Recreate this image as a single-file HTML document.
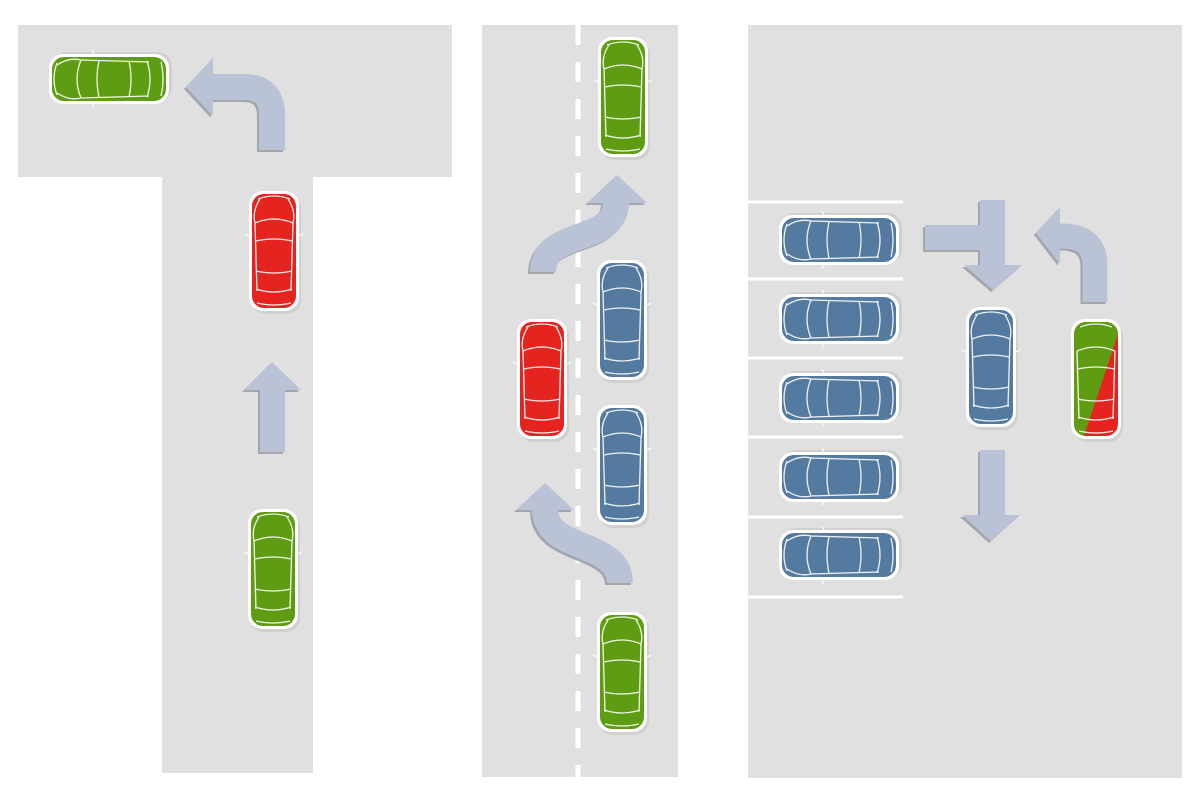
<!DOCTYPE html>
<html><head><meta charset="utf-8"><style>html,body{margin:0;padding:0;background:#fff}svg{display:block}</style></head>
<body>
<svg width="1200" height="804" viewBox="0 0 1200 804" xmlns="http://www.w3.org/2000/svg">
<defs>
<g id="car">
  <rect x="-23" y="-57" width="50" height="120" rx="14" fill="#c4c4c4" opacity="0.6"/>
  <rect x="-25" y="-60" width="50" height="120" rx="14" fill="#fff"/>
  <rect x="-22" y="-57" width="44" height="114" rx="12" fill="currentColor"/>
  <g fill="none" stroke="#fff" stroke-width="1.3" opacity="0.9">
    <path d="M-16,-52 Q0,-58 16,-52"/>
    <path d="M-19,-28 Q0,-36 19,-28"/>
    <path d="M-18,-10 Q0,-14 18,-10"/>
    <path d="M-18,20 Q0,24 18,20"/>
    <path d="M-18,38 Q0,44 18,38"/>
    <path d="M-17,52 Q0,56 17,52"/>
    <path d="M-19,-28 L-17,40"/>
    <path d="M19,-28 L17,40"/>
    <path d="M-14,-52 Q-22,-40 -19,-28"/>
    <path d="M14,-52 Q22,-40 19,-28"/>
    <path d="M-25,-15 l-4,-2 M25,-15 l4,-2"/>
  </g>
</g>
<g id="carSplit">
  <rect x="-23" y="-57" width="50" height="120" rx="14" fill="#c4c4c4" opacity="0.6"/>
  <rect x="-25" y="-60" width="50" height="120" rx="14" fill="#fff"/>
  <clipPath id="cc"><rect x="-22" y="-57" width="44" height="114" rx="12"/></clipPath>
  <g clip-path="url(#cc)">
    <rect x="-22" y="-57" width="44" height="114" fill="#e52420"/>
    <polygon points="-22,-57 22,-57 22,-45 -12,57 -22,57" fill="#5e9d12"/>
  </g>
  <g fill="none" stroke="#fff" stroke-width="1.3" opacity="0.9">
    <path d="M-16,-52 Q0,-58 16,-52"/><path d="M-19,-28 Q0,-36 19,-28"/><path d="M-18,-10 Q0,-14 18,-10"/>
    <path d="M-18,20 Q0,24 18,20"/><path d="M-18,38 Q0,44 18,38"/><path d="M-17,52 Q0,56 17,52"/>
    <path d="M-19,-28 L-17,40"/><path d="M19,-28 L17,40"/>
  </g>
</g>
</defs>

<g fill="#e0e0e0">
  <rect x="18" y="25" width="434" height="152"/>
  <rect x="162" y="176" width="151" height="597"/>
  <rect x="482" y="25" width="196" height="752"/>
  <rect x="748" y="25" width="434" height="753"/>
</g>
<line x1="578" y1="25" x2="578" y2="777" stroke="#fff" stroke-width="5" stroke-dasharray="20 17"/>
<g stroke="#fff" stroke-width="3">
  <line x1="748" y1="202" x2="903" y2="202"/>
  <line x1="748" y1="279" x2="903" y2="279"/>
  <line x1="748" y1="358" x2="903" y2="358"/>
  <line x1="748" y1="437" x2="903" y2="437"/>
  <line x1="748" y1="517" x2="903" y2="517"/>
  <line x1="748" y1="597" x2="903" y2="597"/>
</g>

<g transform="translate(-2,2)" fill="#a4a6ab" stroke="#a4a6ab">
  <g stroke="none"><rect x="260" y="390" width="25" height="62"/><polygon points="244,390 301,390 272,362"/></g>
  <path d="M272,150 L272,115 Q272,87 245,87 L212,87" fill="none" stroke-width="26"/>
  <polygon points="213,58 213,116 186,87" stroke="none"/>
  <path d="M543,272 C543,228 615,245 616,203" fill="none" stroke-width="26"/>
  <polygon points="587,203 647,203 617,175" stroke="none"/>
  <path d="M620,583 C620,540 546,552 545,510" fill="none" stroke-width="26"/>
  <polygon points="516,510 574,510 545,483" stroke="none"/>
  <g stroke="none"><rect x="925" y="225" width="70" height="25"/><rect x="980" y="200" width="25" height="66"/><polygon points="964,265 1022,265 993,290"/>
  <rect x="980" y="450" width="25" height="66"/><polygon points="962,515 1020,515 991,541"/></g>
  <path d="M1095,302 L1095,265 Q1095,238 1066,236 L1058,236" fill="none" stroke-width="25"/>
  <polygon points="1060,207 1060,264 1036,233" stroke="none"/>
</g>
<g fill="#bac3d6" stroke="#bac3d6">
  <g stroke="none"><rect x="260" y="390" width="25" height="62"/><polygon points="244,390 301,390 272,362"/></g>
  <path d="M272,150 L272,115 Q272,87 245,87 L212,87" fill="none" stroke-width="26"/>
  <polygon points="213,58 213,116 186,87" stroke="none"/>
  <path d="M543,272 C543,228 615,245 616,203" fill="none" stroke-width="26"/>
  <polygon points="587,203 647,203 617,175" stroke="none"/>
  <path d="M620,583 C620,540 546,552 545,510" fill="none" stroke-width="26"/>
  <polygon points="516,510 574,510 545,483" stroke="none"/>
  <g stroke="none"><rect x="925" y="225" width="70" height="25"/><rect x="980" y="200" width="25" height="66"/><polygon points="964,265 1022,265 993,290"/>
  <rect x="980" y="450" width="25" height="66"/><polygon points="962,515 1020,515 991,541"/></g>
  <path d="M1095,302 L1095,265 Q1095,238 1066,236 L1058,236" fill="none" stroke-width="25"/>
  <polygon points="1060,207 1060,264 1036,233" stroke="none"/>
</g>

<g color="#5e9d12">
  <use href="#car" transform="translate(109,79) rotate(-90)"/>
  <use href="#car" transform="translate(273,569)"/>
  <use href="#car" transform="translate(623,97)"/>
  <use href="#car" transform="translate(622,672)"/>
</g>
<g color="#e52420">
  <use href="#car" transform="translate(274,251)"/>
  <use href="#car" transform="translate(542,379)"/>
</g>
<g color="#557aa0">
  <use href="#car" transform="translate(622,320)"/>
  <use href="#car" transform="translate(622,465)"/>
  <use href="#car" transform="translate(839,240) rotate(-90)"/>
  <use href="#car" transform="translate(839,319) rotate(-90)"/>
  <use href="#car" transform="translate(839,398) rotate(-90)"/>
  <use href="#car" transform="translate(839,477) rotate(-90)"/>
  <use href="#car" transform="translate(839,555) rotate(-90)"/>
  <use href="#car" transform="translate(991,367)"/>
</g>
<use href="#carSplit" transform="translate(1096,379)"/>
</svg>
</body></html>
